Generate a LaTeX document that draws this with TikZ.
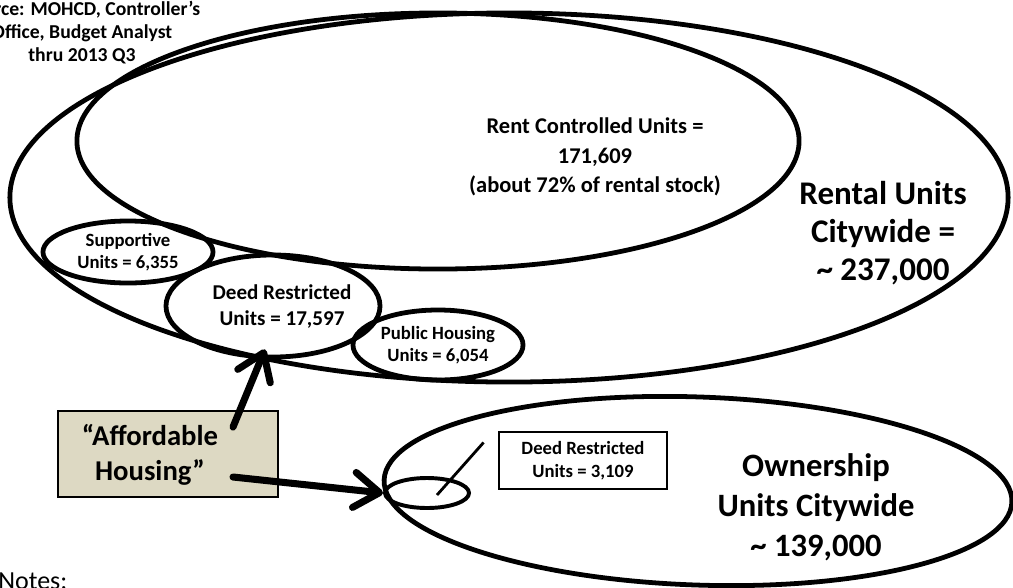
\documentclass[tikz,border=0pt]{standalone}
\usepackage{fontspec}
\setmainfont{Carlito}
\usetikzlibrary{shapes.geometric, arrows.meta, calc}
\definecolor{tan-fill}{HTML}{DDD9C3}

\begin{document}
\begin{tikzpicture}[x=0.025cm, y=-0.025cm,
      every node/.style={font=\bfseries, align=center, inner sep=0pt},
      unitring/.style={draw, ellipse, line width=3.4pt},
      txtbig/.style={font=\bfseries\fontsize{23.5pt}{27pt}\selectfont},
      txtmid/.style={font=\bfseries\fontsize{16pt}{21pt}\selectfont},
      txtsmall/.style={font=\bfseries\fontsize{13.3pt}{16pt}\selectfont},
      bigarrow/.style={-{Straight Barb[length=18pt, width=25pt, round]},
          line width=5pt, line cap=round}]
    \useasboundingbox (0,0) rectangle (1013,587);
    % rental stock
    \node[unitring, minimum width=24.95cm, minimum height=9.225cm]
          (rental) at (509,197.5) {};
    \node[unitring, minimum width=18.05cm, minimum height=6.4cm]
          (rent) at (438,141) {};
    \node[txtmid] (renttxt) at (595,157)
          {Rent Controlled Units =\\171,609\\(about 72\% of rental stock)};
    \node[txtbig] (rentaltxt) at (883,233)
          {Rental Units\\Citywide =\\\textasciitilde{} 237,000};
    \node[unitring, txtsmall, minimum width=4.25cm, minimum height=1.55cm]
          (supp) at (128,252) {Supportive\\Units = 6,355};
    \node[unitring, minimum width=5.35cm, minimum height=2.55cm]
          (deed) at (273,306) {};
    \node[font=\bfseries\fontsize{15pt}{19pt}\selectfont] (deedtxt) at (282,306.5)
          {Deed Restricted\\Units = 17,597};
    \node[unitring, txtsmall, minimum width=4.25cm, minimum height=1.75cm]
          (public) at (438,345) {Public Housing\\Units = 6,054};
    % ownership stock
    \node[unitring, rotate=-2, minimum width=15.7cm, minimum height=4.7cm]
          (owner) at (698,491) {};
    \node[txtbig, font=\bfseries\fontsize{23.2pt}{28.4pt}\selectfont]
          (ownertxt) at (816,507)
          {Ownership\\Units Citywide\\\textasciitilde{} 139,000};
    \node[draw, ellipse, line width=2.8pt, minimum width=2.1cm, minimum height=0.75cm]
          (ownsmall) at (427,493) {};
    \node[draw, line width=2pt, txtsmall, minimum width=4.2cm, minimum height=1.425cm]
          (dr2) at (583,460.5) {Deed Restricted\\Units = 3,109};
    \draw[line width=2pt] ($(ownsmall.center)+(10,2)$) -- ($(dr2.west)+(-14,-18)$);
    % label box and pointers
    \node[draw, line width=2pt, fill=tan-fill, minimum width=5.5cm, minimum height=2.15cm]
          (afford) at (168,454) {};
    \node[font=\bfseries\fontsize{20.4pt}{25pt}\selectfont] (affordtxt) at (150,455)
          {“Affordable\\Housing”};
    \coordinate (upFrom) at (233,427);
    \coordinate (sideFrom) at (233,477);
    \draw[bigarrow] (upFrom) -- ($(deed.south)+(-8,-10)$);
    \draw[bigarrow] (sideFrom) -- (ownsmall.west);
    % source and notes
    \node[font=\bfseries\fontsize{14pt}{16.4pt}\selectfont] (source) at (82,33)
          {Source: MOHCD, Controller’s\\Office, Budget Analyst\\thru 2013 Q3};
    \node[anchor=base west, font=\fontsize{18.5pt}{22pt}\selectfont] (notes) at (-2,589) {Notes:};
\end{tikzpicture}
\end{document}
